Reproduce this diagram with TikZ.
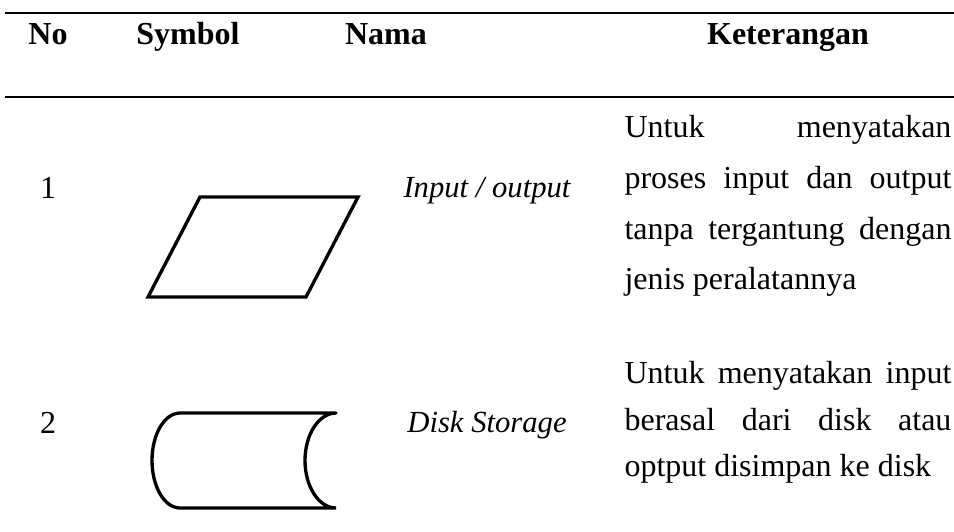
\documentclass[tikz,border=0pt]{standalone}
\usepackage{fontspec}
\setmainfont{Liberation Serif}
\newcommand{\justline}[1]{\makebox[122.6pt][s]{#1}}
\begin{document}
\begin{tikzpicture}[x=0.375pt, y=-0.375pt,
    rule/.style={line width=0.9pt},
    sym/.style={line width=1.25pt, line cap=round},
    txt/.style={anchor=base, inner sep=0pt, font=\fontsize{12}{14}\selectfont},
    nama/.style={anchor=base, inner sep=0pt, font=\fontsize{11.5}{13}\selectfont\itshape},
    ket/.style={anchor=base west, inner sep=0pt, font=\fontsize{12}{14}\selectfont}]
    \useasboundingbox (0,0) rectangle (954,531);
    \draw[rule] (5,13) -- (954,13);
    \draw[rule] (5,97) -- (954,97);

    \node[txt] (hno) at (48,45) {\textbf{No}};
    \node[txt] (hsym) at (188,45) {\textbf{Symbol}};
    \node[txt] (hnama) at (386,45) {\textbf{Nama}};
    \node[txt] (hket) at (788,45) {\textbf{Keterangan}};

    \node[txt] (no1) at (48,198) {1};
    \draw[sym] (200,197) -- (358,197) -- (306,297) -- (148,297) -- cycle;
    \node[nama] (nama1) at (487,197) {Input / output};
    \node[ket] (ket1a) at (624,138) {\justline{Untuk menyatakan}};
    \node[ket] (ket1b) at (624,188) {\justline{proses input dan output}};
    \node[ket] (ket1c) at (624,239) {\justline{tanpa tergantung dengan}};
    \node[ket] (ket1d) at (624,289) {jenis peralatannya};

    \node[txt] (no2) at (48,433) {2};
    \draw[sym] (336,413) -- (180,413)
        .. controls (164.5,413) and (152,434.3) .. (152,460.5)
        .. controls (152,486.7) and (164.5,508) .. (180,508) -- (336,508)
        .. controls (318.9,508) and (305,486.7) .. (305,460.5)
        .. controls (305,434.3) and (318.9,413) .. (336,413);
    \node[nama] (nama2) at (487,432) {Disk Storage};
    \node[ket] (ket2a) at (624,383) {\justline{Untuk menyatakan input}};
    \node[ket] (ket2b) at (624,430) {\justline{berasal dari disk atau}};
    \node[ket] (ket2c) at (624,476) {optput disimpan ke disk};
\end{tikzpicture}
\end{document}
